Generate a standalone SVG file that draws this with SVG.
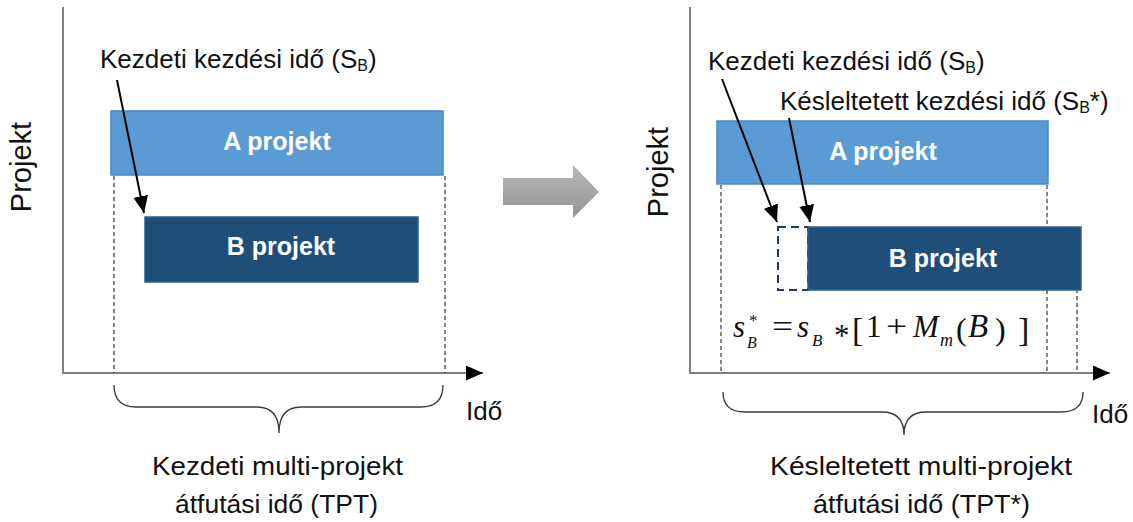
<svg xmlns="http://www.w3.org/2000/svg" width="1133" height="522" viewBox="0 0 1133 522">
  <defs>
    <style>
      .lbl { font-family: "Liberation Sans", Arial, sans-serif; font-size: 26px; fill: #111; }
      .bar-text { font-family: "Liberation Sans", Arial, sans-serif; font-size: 25px; font-weight: bold; fill: #fff; text-anchor: middle; }
      .math { font-family: "Liberation Serif", "Times New Roman", serif; font-size: 31px; fill: #111; }
      .it { font-style: italic; }
      .axis { stroke: #7f7f7f; stroke-width: 2; fill: none; }
      .guide { stroke: #333; stroke-width: 1.2; stroke-dasharray: 4 3; fill: none; }
      .brace { stroke: #3a3a3a; stroke-width: 1.3; fill: none; }
      .callout { stroke: #000; stroke-width: 2; fill: none; }
      .barA { fill: #5b9bd5; stroke: #4a88c4; stroke-width: 1.5; }
      .barB { fill: #1f4e79; stroke: #2e5f91; stroke-width: 1.5; }
      .ghost { fill: none; stroke: #1f3864; stroke-width: 2; stroke-dasharray: 8 5; }
    </style>
    <marker id="head" markerUnits="userSpaceOnUse" markerWidth="17" markerHeight="15" refX="17" refY="7.5" orient="auto">
      <path d="M0,0 L17,7.5 L0,15 Z" fill="#000"/>
    </marker>
    <linearGradient id="grayArrow" x1="0" y1="0" x2="0" y2="1">
      <stop offset="0" stop-color="#b8b8b8"/>
      <stop offset="1" stop-color="#949494"/>
    </linearGradient>
  </defs>

  <!-- Left chart: initial schedule -->
  <g id="left-axes">
    <line class="axis" x1="63" y1="7" x2="63" y2="373"/>
    <line class="axis" x1="62" y1="373" x2="483" y2="373" marker-end="url(#head)"/>
    <text class="lbl" transform="translate(31,167) rotate(-90)" text-anchor="middle" style="font-size:29px">Projekt</text>
    <text class="lbl" x="466" y="420">Idő</text>
  </g>

  <g id="left-guides">
    <line class="guide" x1="114" y1="176" x2="114" y2="373"/>
    <line class="guide" x1="445" y1="176" x2="445" y2="373"/>
  </g>

  <g id="left-project-a">
    <rect class="barA" x="111" y="111" width="332" height="64"/>
    <text class="bar-text" x="277" y="150">A projekt</text>
  </g>

  <g id="left-project-b">
    <rect class="barB" x="145" y="217" width="273" height="65"/>
    <text class="bar-text" x="281" y="255">B projekt</text>
  </g>

  <g id="left-start-label">
    <text class="lbl" x="100" y="68">Kezdeti kezdési idő (S<tspan font-size="16" dy="3">B</tspan><tspan dy="-3">)</tspan></text>
  </g>

  <g id="left-span">
    <path class="brace" d="M114,385 Q114,407 136,407 L257,407 Q279,407 279,433 Q279,407 301,407 L421,407 Q443,407 443,385"/>
    <text class="lbl" x="152" y="475" textLength="251" lengthAdjust="spacingAndGlyphs">Kezdeti multi-projekt</text>
    <text class="lbl" x="175" y="513" textLength="203" lengthAdjust="spacingAndGlyphs">átfutási idő (TPT)</text>
  </g>

  <!-- Transition arrow -->
  <g id="transition">
    <polygon points="503,178 573,178 573,165 599,192 573,218 573,205 503,205" fill="url(#grayArrow)"/>
  </g>

  <!-- Right chart: delayed schedule -->
  <g id="right-axes">
    <line class="axis" x1="690" y1="7" x2="690" y2="373"/>
    <line class="axis" x1="689" y1="373" x2="1110" y2="373" marker-end="url(#head)"/>
    <text class="lbl" transform="translate(668,172) rotate(-90)" text-anchor="middle" style="font-size:29px">Projekt</text>
    <text class="lbl" x="1092" y="423">Idő</text>
  </g>

  <g id="right-guides">
    <line class="guide" x1="721" y1="185" x2="721" y2="373"/>
    <line class="guide" x1="1047" y1="185" x2="1047" y2="373"/>
    <line class="guide" x1="1077" y1="282" x2="1077" y2="373"/>
  </g>

  <g id="right-project-a">
    <rect class="barA" x="717" y="121" width="331" height="63"/>
    <text class="bar-text" x="883" y="160">A projekt</text>
  </g>

  <g id="right-project-b-original">
    <rect class="ghost" x="778" y="227" width="30" height="63"/>
  </g>

  <g id="right-project-b">
    <rect class="barB" x="808" y="227" width="273" height="63"/>
    <text class="bar-text" x="943" y="267">B projekt</text>
  </g>

  <g id="right-start-label">
    <text class="lbl" x="708" y="70">Kezdeti kezdési idő (S<tspan font-size="16" dy="3">B</tspan><tspan dy="-3">)</tspan></text>
  </g>

  <g id="right-delayed-label">
    <text class="lbl" x="780" y="110">Késleltetett kezdési idő (S<tspan font-size="16" dy="3">B</tspan><tspan dy="-3">*)</tspan></text>
  </g>

  <!-- s*_B = s_B * [1 + M_m(B)] -->
  <g id="formula">
    <text class="math" x="733" y="337"><tspan class="it">s</tspan><tspan x="749" y="326" font-size="17">*</tspan><tspan class="it" x="747" y="348" font-size="16">B</tspan></text>
    <text class="math" x="772" y="337" textLength="21" lengthAdjust="spacingAndGlyphs">=</text>
    <text class="math" x="797" y="337"><tspan class="it">s</tspan><tspan class="it" x="812" y="346" font-size="17">B</tspan></text>
    <text class="math" x="834" y="346">*</text>
    <text class="math" x="852" y="341" style="font-size:34px">[</text>
    <text class="math" x="866" y="337">1</text>
    <text class="math" x="886" y="337" textLength="21" lengthAdjust="spacingAndGlyphs">+</text>
    <text class="math" x="913" y="337"><tspan class="it">M</tspan><tspan class="it" x="940" y="346" font-size="18">m</tspan></text>
    <text class="math" x="956" y="340" style="font-size:32px">(</text>
    <text class="math it" x="968" y="337" style="font-size:33px">B</text>
    <text class="math" x="995" y="340" style="font-size:32px">)</text>
    <text class="math" x="1018" y="341" style="font-size:34px">]</text>
  </g>

  <g id="right-span">
    <path class="brace" d="M723,392 Q723,412 745,412 L882,412 Q904,412 904,435 Q904,412 926,412 L1061,412 Q1083,412 1083,392"/>
    <text class="lbl" x="770" y="475" textLength="302" lengthAdjust="spacingAndGlyphs">Késleltetett multi-projekt</text>
    <text class="lbl" x="813" y="513" textLength="217" lengthAdjust="spacingAndGlyphs">átfutási idő (TPT*)</text>
  </g>

  <!-- Callout arrows -->
  <g id="connectors">
    <line class="callout" x1="117" y1="80" x2="144" y2="213" marker-end="url(#head)"/>
    <line class="callout" x1="722" y1="79" x2="777" y2="222" marker-end="url(#head)"/>
    <line class="callout" x1="789" y1="118" x2="810" y2="222" marker-end="url(#head)"/>
  </g>
</svg>
